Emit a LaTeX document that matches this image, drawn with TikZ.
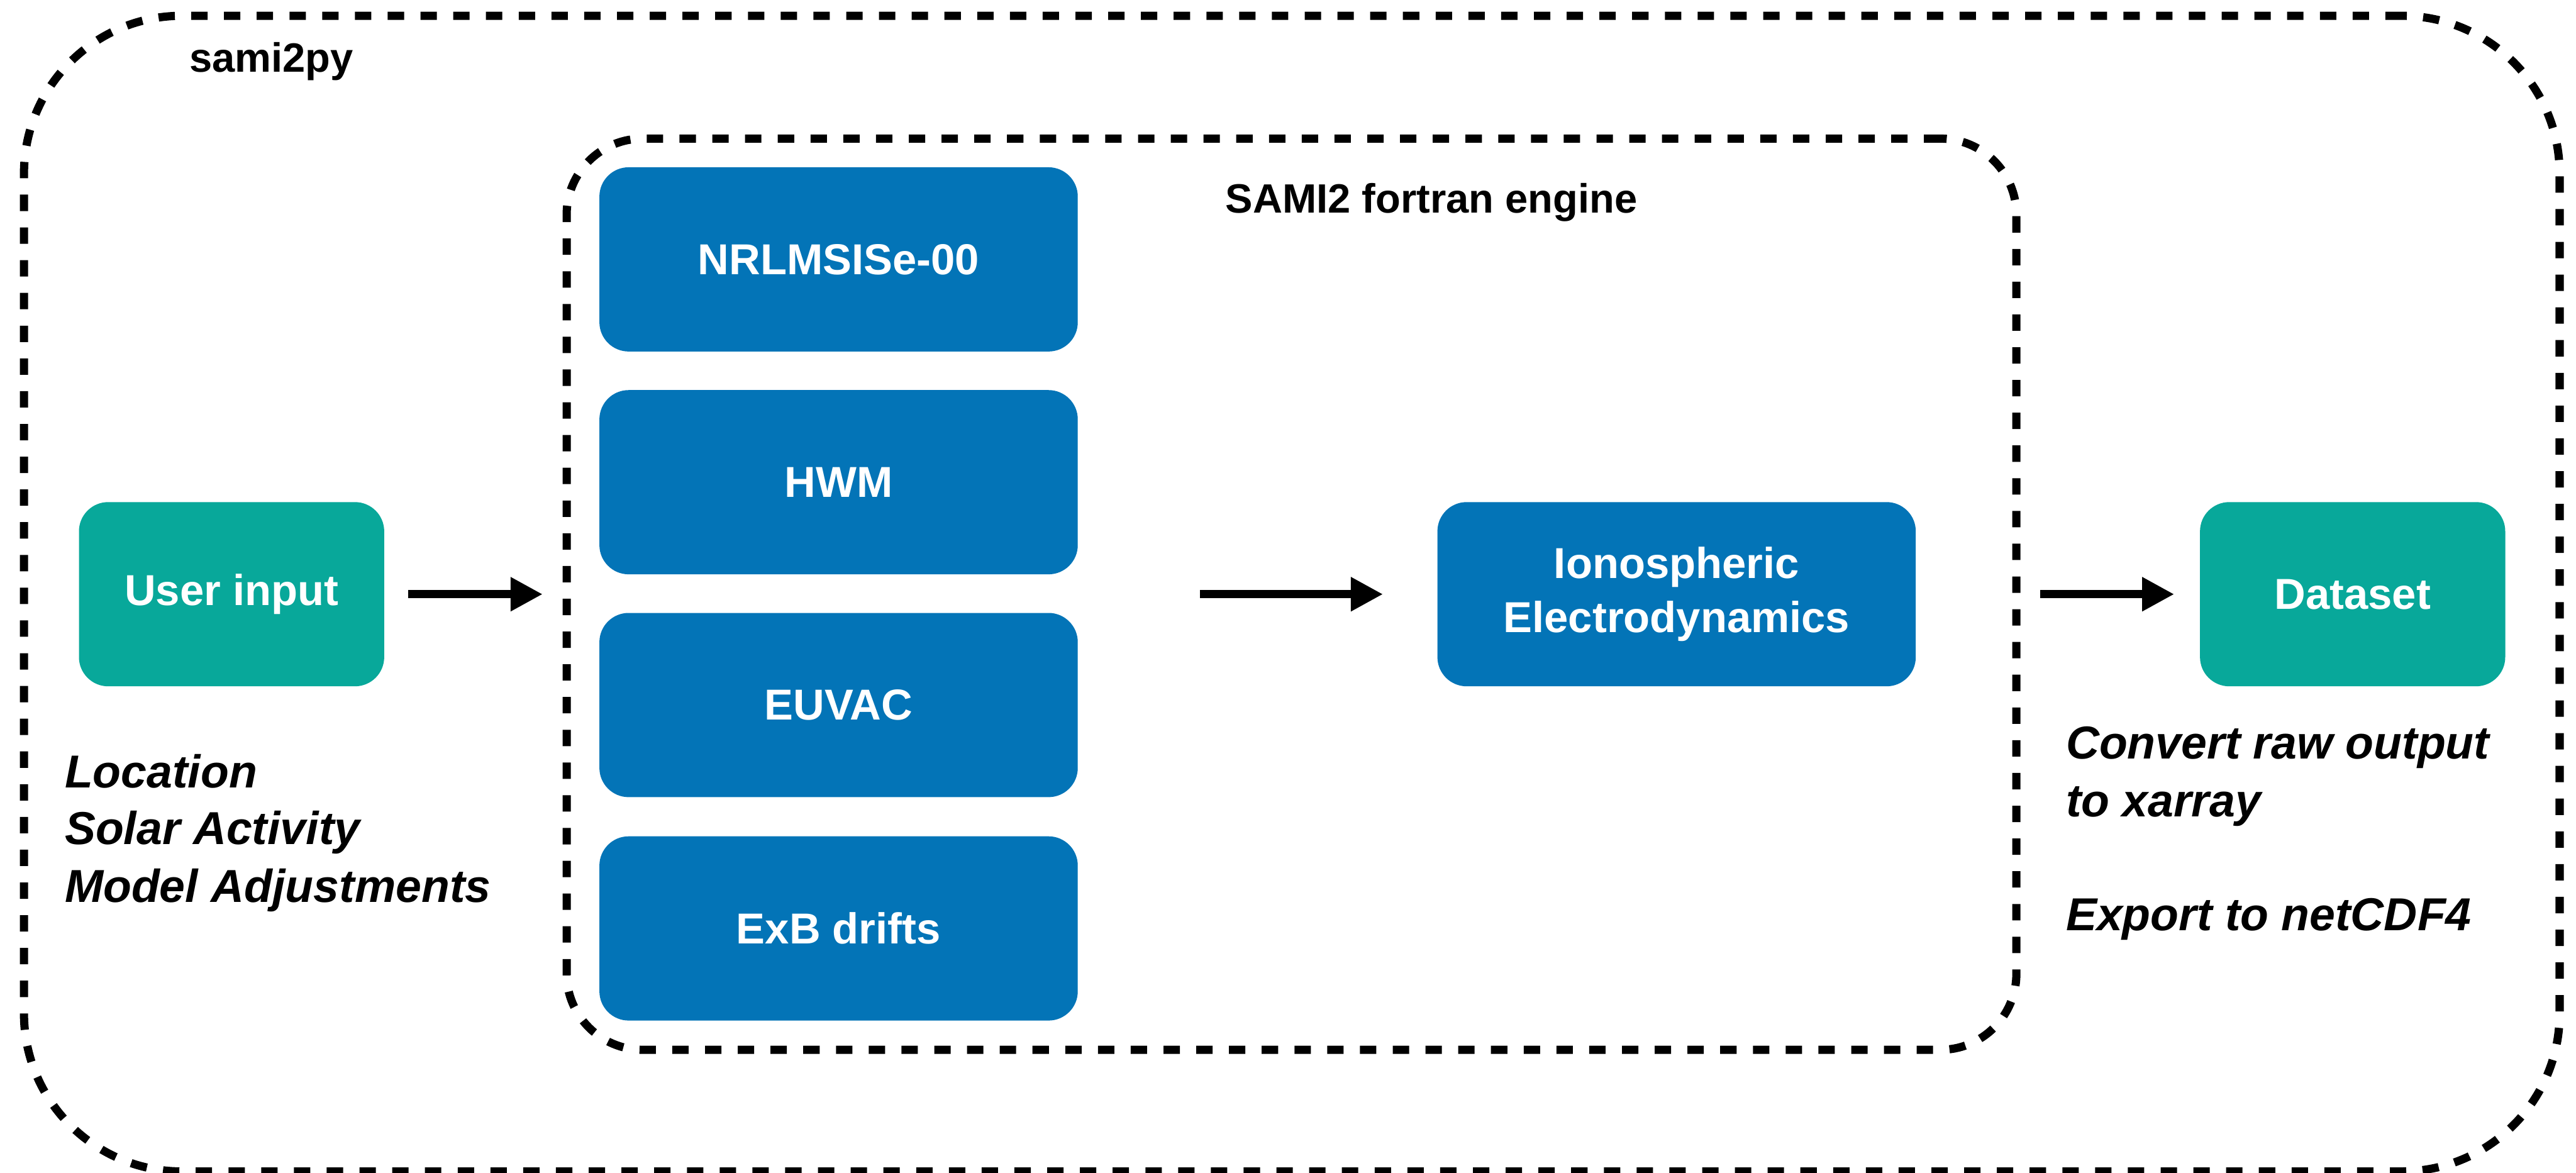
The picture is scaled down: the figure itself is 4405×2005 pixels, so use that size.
\documentclass[tikz,border=0pt]{standalone}
\usepackage{fontspec}
\setmainfont{Liberation Sans}
\usetikzlibrary{arrows.meta}
\definecolor{modelblue}{RGB}{3,116,183}
\definecolor{ioteal}{RGB}{8,168,154}
\begin{document}
\begin{tikzpicture}[x=0.25pt,y=-0.25pt,
  box/.style={rounded corners=12.5pt, minimum width=204.5pt, minimum height=78.75pt,
    inner sep=0pt, outer sep=0pt, text=white, align=center,
    font=\bfseries\fontsize{18.5}{23}\selectfont},
  model/.style={box, fill=modelblue},
  io/.style={box, fill=ioteal, minimum width=130.5pt},
  frame/.style={draw=black, line width=3.5pt, dash pattern=on 7pt off 7pt,
    inner sep=0pt, outer sep=0pt},
  flow/.style={line width=3.5pt, -{Triangle[length=13.75pt,width=13.75pt]}},
  note/.style={anchor=base west, inner sep=0pt,
    font=\bfseries\itshape\fontsize{19.75}{24.5}\selectfont},
  title/.style={anchor=base west, inner sep=0pt,
    font=\bfseries\fontsize{17.5}{21}\selectfont}]

\useasboundingbox (0,0) rectangle (4405,2005);

% package and engine frames
\node[frame, rounded corners=67.5pt, minimum width=1084pt, minimum height=494pt]
  (sami) at (2209,1015) {};
\node[frame, rounded corners=32.5pt, minimum width=619.75pt, minimum height=389.5pt]
  (engine) at (2208.5,1016) {};

\node[title] (pkgname) at (323,123) {sami2py};
\node[title] (engname) at (2095,364) {SAMI2 fortran engine};

% model components
\node[model] (nrl)   at (1434,443.5)  {NRLMSISe-00};
\node[model] (hwm)   at (1434,824.5)  {HWM};
\node[model] (euvac) at (1434,1205.5) {EUVAC};
\node[model] (exb)   at (1434,1587.5) {ExB drifts};
\node[model] (iono)  at (2867,1016)   {Ionospheric\\Electrodynamics};

% input and output
\node[io] (user)    at (396,1016)  {User input};
\node[io] (dataset) at (4023,1016) {Dataset};

% data flow
\coordinate (feed) at (2052,1016);
\draw[flow, shorten <=10.25pt, shorten >=10.25pt] (user.east) -- (engine.west);
\draw[flow, shorten >=23.25pt] (feed) -- (iono.west);
\draw[flow, shorten <=10.25pt, shorten >=11pt] (engine.east) -- (dataset.west);

% notes
\node[note] (loc)   at (110,1347) {Location};
\node[note] (solar) at (110,1444) {Solar Activity};
\node[note] (adj)   at (110,1543) {Model Adjustments};
\node[note] (conv1) at (3532,1297) {Convert raw output};
\node[note] (conv2) at (3532,1396) {to xarray};
\node[note] (exp)   at (3532,1591) {Export to netCDF4};
\end{tikzpicture}
\end{document}
